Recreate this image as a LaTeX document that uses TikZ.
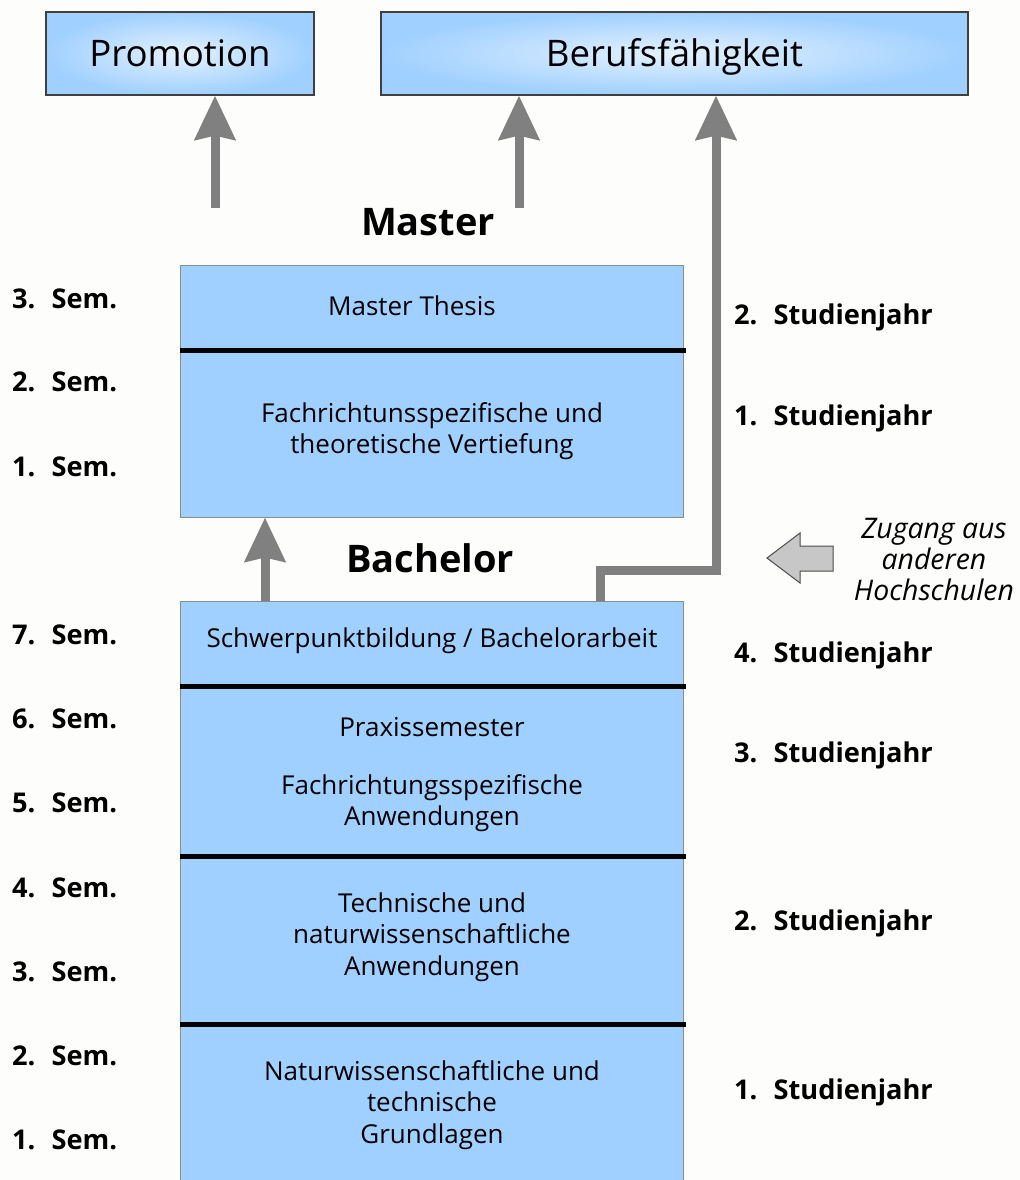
\documentclass[tikz,border=0pt]{standalone}
\usepackage{fontspec}
\setmainfont{Open Sans}
\usetikzlibrary{arrows.meta}
\definecolor{boxblue}{HTML}{A0D0FF}
\definecolor{boxlight}{HTML}{E4F2FF}
\definecolor{arrgray}{HTML}{808080}
\definecolor{bgcol}{HTML}{FDFDFB}
\begin{document}
\begin{tikzpicture}[x=0.5pt,y=-0.5pt,
  topbox/.style={draw=black!75,line width=0.6pt,inner color=boxlight,outer color=boxblue,minimum height=41.5pt,text height=15pt,text depth=2pt,font=\fontsize{18.3}{22}\selectfont},
  stage/.style={draw=black!45,line width=0.5pt,fill=boxblue,minimum width=251.5pt},
  txt/.style={align=center,font=\fontsize{13}{15.75}\selectfont},
  sem/.style={anchor=base west,font=\bfseries\fontsize{13.6}{15}\selectfont},
  title/.style={font=\bfseries\fontsize{19}{23}\selectfont},
  garrow/.style={draw=arrgray,line width=4.5pt,-{Stealth[length=22pt,width=20pt,inset=2pt]}},
  divider/.style={line width=2.5pt}]
\fill[bgcol] (0,0) rectangle (1020,1180);
\useasboundingbox (0,0) rectangle (1020,1180);
% targets
\node[name=promo,topbox,minimum width=134pt] at (180,53.5){Promotion};
\node[name=beruf,topbox,minimum width=293.5pt] at (674.5,53.5){Berufsfähigkeit};
% master
\node[name=mtitle,title] at (428,222){Master};
\node[name=master,stage,minimum height=126pt] at (431.5,391){};
\draw[divider] (180,350)--(686,350);
\node[name=thesis,txt] at (412,306){Master Thesis};
\node[name=vertief,txt] at (432,431){Fachrichtunsspezifische und\\theoretische Vertiefung};
% bachelor
\node[name=btitle,title] at (430,558){Bachelor};
\node[name=bach,stage,minimum height=292pt] at (431.5,893){};
\draw[divider] (180,686)--(686,686);
\draw[divider] (180,856)--(686,856);
\draw[divider] (180,1024)--(686,1024);
\node[name=schwer,txt] at (432,641){Schwerpunktbildung / Bachelorarbeit};
\node[name=praxis,txt] at (432,727){Praxissemester};
\node[name=fachanw,txt] at (432,803){Fachrichtungsspezifische\\Anwendungen};
\node[name=techanw,txt] at (432,937){Technische und\\naturwissenschaftliche\\Anwendungen};
\node[name=grundl,txt] at (432,1105){Naturwissenschaftliche und\\technische\\Grundlagen};
% arrows
\coordinate (a1) at (215,208);
\coordinate (a2) at (519,208);
\coordinate (b1) at (265,601);
\coordinate (b3) at (600,601);
\coordinate (k1) at (716,570);
\draw[garrow] (a1)--(a1 |- promo.south);
\draw[garrow] (a2)--(a2 |- beruf.south);
\draw[garrow] (b1)--(b1 |- master.south);
\draw[garrow] (b3)|-(k1)--(k1 |- beruf.south);
% zugang
\draw[draw=black!70,fill=black!22,line width=0.5pt] (833,546)--(800,546)--(800,533)--(767,558)--(800,583)--(800,571)--(833,571)--cycle;
\node[name=zugang,align=center,font=\itshape\fontsize{14.2}{15.5}\selectfont] at (934,559){Zugang aus\\anderen\\Hochschulen};
% semester
\node[name=m3,sem] at (5,308){3.\hspace{0.6em}Sem.};
\node[name=m2,sem] at (5,391){2.\hspace{0.6em}Sem.};
\node[name=m1,sem] at (5,476){1.\hspace{0.6em}Sem.};
\node[name=s7,sem] at (5,644){7.\hspace{0.6em}Sem.};
\node[name=s6,sem] at (5,728){6.\hspace{0.6em}Sem.};
\node[name=s5,sem] at (5,812){5.\hspace{0.6em}Sem.};
\node[name=s4,sem] at (5,897){4.\hspace{0.6em}Sem.};
\node[name=s3,sem] at (5,981){3.\hspace{0.6em}Sem.};
\node[name=s2,sem] at (5,1065){2.\hspace{0.6em}Sem.};
\node[name=s1,sem] at (5,1149){1.\hspace{0.6em}Sem.};
% studienjahr
\node[name=mj2,sem] at (727,324){2.\hspace{0.6em}Studienjahr};
\node[name=mj1,sem] at (727,425){1.\hspace{0.6em}Studienjahr};
\node[name=j4,sem] at (727,662){4.\hspace{0.6em}Studienjahr};
\node[name=j3,sem] at (727,762){3.\hspace{0.6em}Studienjahr};
\node[name=j2,sem] at (727,930){2.\hspace{0.6em}Studienjahr};
\node[name=j1,sem] at (727,1099){1.\hspace{0.6em}Studienjahr};
\end{tikzpicture}
\end{document}
